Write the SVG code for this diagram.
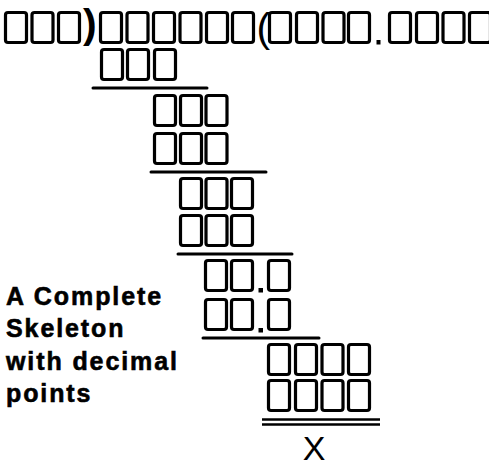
<svg xmlns="http://www.w3.org/2000/svg" xmlns:xlink="http://www.w3.org/1999/xlink" width="489" height="467" viewBox="0 0 489 467">
<style>
.bx{fill:none;stroke:#000;stroke-width:3.2}
.rule{stroke:#000;stroke-width:3;stroke-linecap:round;fill:none}
.rule2{stroke:#000;stroke-width:2.5;fill:none}
.lbl{font-family:"Liberation Sans",Arial,sans-serif;font-weight:bold;font-size:25px;letter-spacing:1.9px;fill:#000;stroke:#000;stroke-width:0.6}
.par{font-family:"Liberation Sans",Arial,sans-serif;font-size:41px;fill:#000}
.dot{fill:#000}
</style>
<defs>
<rect id="b" class="bx" x="0" y="0" width="21" height="30" rx="2.5"/>
</defs>
<rect width="489" height="467" fill="#fff"/>
<g id="row1">
<use xlink:href="#b" x="5.5" y="12.5"/><use xlink:href="#b" x="32" y="12.5"/><use xlink:href="#b" x="58.5" y="12.5"/>
<text class="par" x="83" y="37.5" font-weight="bold">)</text>
<use xlink:href="#b" x="100.5" y="12.5"/><use xlink:href="#b" x="127" y="12.5"/><use xlink:href="#b" x="153.5" y="12.5"/><use xlink:href="#b" x="180" y="12.5"/><use xlink:href="#b" x="206.5" y="12.5"/><use xlink:href="#b" x="232.5" y="12.5"/>
<text class="par" x="256.5" y="42">(</text>
<use xlink:href="#b" x="269.5" y="12.5"/><use xlink:href="#b" x="296.5" y="12.5"/><use xlink:href="#b" x="323" y="12.5"/><use xlink:href="#b" x="348.5" y="12.5"/>
<rect class="dot" x="376.5" y="40" width="4" height="4.5"/>
<use xlink:href="#b" x="389.5" y="12.5"/><use xlink:href="#b" x="416.5" y="12.5"/><use xlink:href="#b" x="443" y="12.5"/><use xlink:href="#b" x="469.5" y="12.5"/>
</g>
<g id="row2">
<use xlink:href="#b" x="101.5" y="49.5"/><use xlink:href="#b" x="127.5" y="49.5"/><use xlink:href="#b" x="154.5" y="49.5"/>
</g>
<g id="rows3-4">
<use xlink:href="#b" x="154.5" y="95.5"/><use xlink:href="#b" x="180.5" y="95.5"/><use xlink:href="#b" x="206" y="95.5"/>
<use xlink:href="#b" x="154.5" y="133.5"/><use xlink:href="#b" x="180.5" y="133.5"/><use xlink:href="#b" x="206" y="133.5"/>
</g>
<g id="rows5-6">
<use xlink:href="#b" x="180.5" y="178.5"/><use xlink:href="#b" x="206" y="178.5"/><use xlink:href="#b" x="231.5" y="178.5"/>
<use xlink:href="#b" x="180.5" y="215.5"/><use xlink:href="#b" x="206" y="215.5"/><use xlink:href="#b" x="231.5" y="215.5"/>
</g>
<g id="rows7-8">
<use xlink:href="#b" x="205.5" y="260.5"/><use xlink:href="#b" x="231.5" y="260.5"/>
<rect class="dot" x="258.5" y="288" width="4.5" height="4.5"/>
<use xlink:href="#b" x="268.5" y="260.5"/>
<use xlink:href="#b" x="205.5" y="299.5"/><use xlink:href="#b" x="231.5" y="299.5"/>
<rect class="dot" x="258.5" y="328" width="4.5" height="4.5"/>
<use xlink:href="#b" x="268.5" y="299.5"/>
</g>
<g id="rows9-10">
<use xlink:href="#b" x="268.5" y="344.5"/><use xlink:href="#b" x="295.5" y="344.5"/><use xlink:href="#b" x="322" y="344.5"/><use xlink:href="#b" x="348.5" y="344.5"/>
<use xlink:href="#b" x="268.5" y="380.5"/><use xlink:href="#b" x="295.5" y="380.5"/><use xlink:href="#b" x="322" y="380.5"/><use xlink:href="#b" x="348.5" y="380.5"/>
</g>
<g id="rules">
<line class="rule" x1="93" y1="88" x2="207" y2="88"/>
<line class="rule" x1="151" y1="172" x2="266" y2="172"/>
<line class="rule" x1="178" y1="254" x2="292" y2="254"/>
<line class="rule" x1="203" y1="338" x2="319" y2="338"/>
<line class="rule2" x1="262" y1="419.5" x2="380" y2="419.5"/>
<line class="rule2" x1="262" y1="424.5" x2="380" y2="424.5"/>
</g>
<g id="caption">
<text class="lbl" x="6" y="305">A Complete</text>
<text class="lbl" x="6" y="337">Skeleton</text>
<text class="lbl" x="6" y="370">with decimal</text>
<text class="lbl" x="6" y="402">points</text>
</g>
<g id="result">
<text x="314" y="460" text-anchor="middle" font-family="Liberation Sans, Arial, sans-serif" font-size="34">X</text>
</g>
</svg>
